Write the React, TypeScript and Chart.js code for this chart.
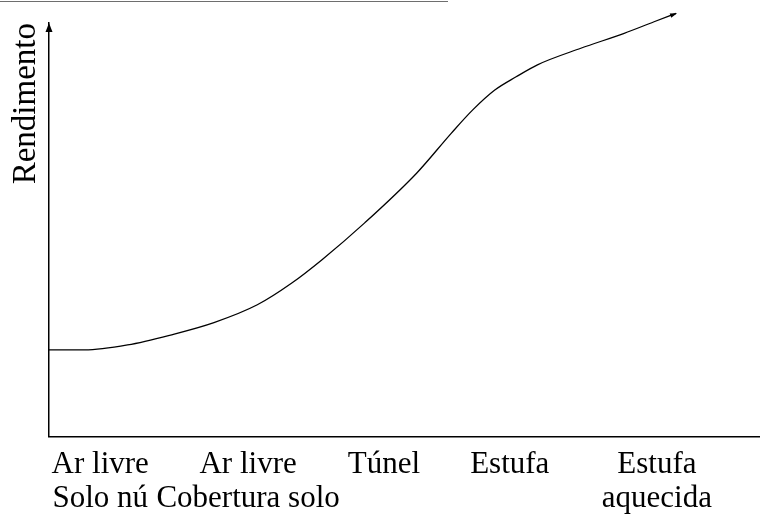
import React, { useEffect, useRef } from "react";
import { Chart, registerables } from "chart.js";

Chart.register(...registerables);

const categories: string[][] = [
  ["Ar livre", "Solo nú"],
  ["Ar livre", "Cobertura solo"],
  ["Túnel"],
  ["Estufa"],
  ["Estufa", "aquecida"],
];
const categoryPositions: number[] = [7.2, 28.0, 47.1, 64.8, 85.5];

const curveX: number[] = [0, 5.0, 11.05, 17.1, 23.2, 29.3, 34.1, 38.4, 44.4, 51.7, 56.6, 59.6, 62.7, 65.7, 68.7, 74.8, 80.9, 85.1, 88.2];
const curveY: number[] = [21.0, 21.0, 22.2, 24.6, 27.6, 31.9, 37.1, 42.8, 51.7, 63.7, 73.4, 79.0, 83.8, 87.0, 89.9, 93.9, 97.5, 100.3, 102.3];

const yTitle = "Rendimento";
const FONT = "'Liberation Serif', 'Times New Roman', serif";

const decorPlugin = {
  id: "decor",
  afterDraw(chart: any) {
    const ctx = chart.ctx;
    const area = chart.chartArea;
    ctx.save();
    // top grey rule
    ctx.strokeStyle = "#6e6e6e";
    ctx.lineWidth = 1.2;
    ctx.beginPath();
    ctx.moveTo(0, 1.5);
    ctx.lineTo(448, 1.5);
    ctx.stroke();
    // y-axis arrow head
    ctx.fillStyle = "#000";
    const ax = area.left;
    const ay = area.top;
    ctx.beginPath();
    ctx.moveTo(ax, ay);
    ctx.lineTo(ax - 3.5, ay + 9);
    ctx.lineTo(ax + 3.5, ay + 9);
    ctx.closePath();
    ctx.fill();
    // curve end arrow head
    const meta = chart.getDatasetMeta(0);
    const pts = meta.data;
    if (pts.length > 1) {
      const p1 = pts[pts.length - 1];
      const p0 = pts[pts.length - 2];
      const ang = Math.atan2(p1.y - p0.y, p1.x - p0.x);
      const len = 6;
      const w = 2.2;
      ctx.translate(p1.x, p1.y);
      ctx.rotate(ang);
      ctx.beginPath();
      ctx.moveTo(1, 0);
      ctx.lineTo(-len, -w);
      ctx.lineTo(-len, w);
      ctx.closePath();
      ctx.fill();
    }
    ctx.restore();
  },
};

export default function App() {
  const ref = useRef<HTMLCanvasElement | null>(null);
  useEffect(() => {
    if (!ref.current) return;
    const chart = new Chart(ref.current, {
      type: "line",
      data: {
        datasets: [
          {
            data: curveX.map((x, i) => ({ x, y: curveY[i] })),
            borderColor: "#000",
            borderWidth: 1.3,
            pointRadius: 0,
            fill: false,
            cubicInterpolationMode: "monotone",
            clip: false,
          } as any,
        ],
      },
      options: {
        responsive: false,
        animation: false,
        events: [],
        layout: { padding: { top: 23, left: 1.4, right: 0, bottom: -5 } },
        plugins: { legend: { display: false }, tooltip: { enabled: false } },
        scales: {
          x: {
            type: "linear",
            min: 0,
            max: 100,
            grid: { display: false, drawTicks: false },
            border: { display: true, color: "#000", width: 1.5 },
            afterBuildTicks: (axis: any) => {
              axis.ticks = categoryPositions.map((v) => ({ value: v }));
            },
            ticks: {
              autoSkip: false,
              maxRotation: 0,
              padding: 11,
              color: "#000",
              font: { family: FONT, size: 31, lineHeight: 1.1 },
              callback: (_v: any, i: number) => categories[i],
            },
          },
          y: {
            type: "linear",
            min: 0,
            max: 100,
            grid: { display: false, drawTicks: false },
            border: { display: true, color: "#000", width: 1.5 },
            ticks: { display: false },
            title: {
              display: true,
              text: yTitle,
              align: "end",
              color: "#000",
              padding: { top: 5.5, bottom: 2.5 },
              font: { family: FONT, size: 33, lineHeight: 1.2 },
            },
          },
        },
      },
      plugins: [decorPlugin],
    } as any);
    return () => chart.destroy();
  }, []);
  return (
    <div style={{ position: "absolute", left: 0, top: 0, width: 760, height: 522, background: "#fff" }}>
      <canvas ref={ref} width={760} height={522} />
    </div>
  );
}
